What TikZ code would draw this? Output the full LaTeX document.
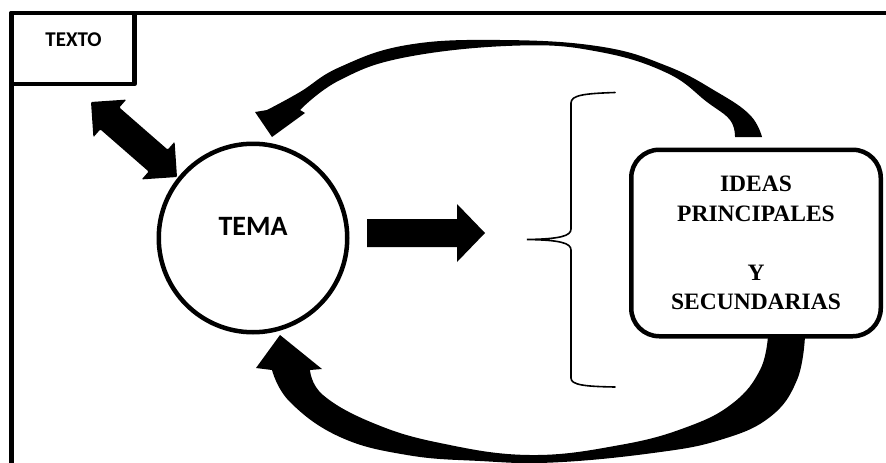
\documentclass[tikz,border=0pt]{standalone}
\usepackage{fontspec}
\setmainfont{Liberation Serif}
\newfontfamily\calfont{Carlito}
\begin{document}
\begin{tikzpicture}[x=1pt,y=-1pt,
  frameline/.style={line width=4.5pt, line join=round},
  blockarrow/.style={fill=black, draw=none},
  sanslbl/.style={inner sep=0pt, font=\calfont\bfseries},
  bracestyle/.style={line width=1.6pt, line cap=round}]
\useasboundingbox (0,0) rectangle (886,463);
\clip (0,0) rectangle (886,463);
\fill[white] (0,0) rectangle (886,463);

% outer frame (only top and left visible)
\coordinate (fbl) at (11.7,480);
\coordinate (ftl) at (11.7,12.8);
\coordinate (ftr) at (900,12.8);
\draw[frameline] (fbl) -- (ftl) -- (ftr);

% TEXTO box
\node[draw, frameline, rectangle, inner sep=0pt, outer sep=0pt,
      minimum width=122.6pt, minimum height=71.4pt] (texto) at (73,48.5) {};
\node[sanslbl, font=\calfont\bfseries\fontsize{21}{25}\selectfont] (textolbl) at (73.5,39.5) {TEXTO};

% TEMA circle
\node[draw, circle, line width=4.5pt, inner sep=0pt, outer sep=0pt,
      minimum size=188.5pt] (tema) at (253,238) {};
\node[sanslbl, font=\calfont\bfseries\fontsize{28}{33}\selectfont] (temalbl) at (253,226.5) {TEMA};

% IDEAS box
\node[draw, line width=4.5pt, rounded corners=28pt, inner sep=0pt, outer sep=0pt,
      minimum width=249.5pt, minimum height=186.5pt, align=center,
      font=\bfseries\fontsize{23.5}{29.5}\selectfont] (ideas) at (756,243)
      {IDEAS\\PRINCIPALES\\[29.5pt]Y\\SECUNDARIAS};

% double arrow TEXTO <-> TEMA
\fill[blockarrow, rounded corners=1pt]
  (91,102) -- (126.27,99.59) -- (119.37,107.50) -- (167.69,149.64) -- (174.59,141.73)
  -- (177,177) -- (141.73,179.41) -- (148.63,171.50) -- (100.31,129.36) -- (93.41,137.27) -- cycle;

% right block arrow
\fill[blockarrow] (367,219) -- (457,219) -- (457,204) -- (485,233) -- (457,262) -- (457,247) -- (367,247) -- cycle;

% brace
\draw[bracestyle] (615,92.5) .. controls (585,93.5) and (571,95) .. (571,103) -- (571,229)
  .. controls (571,236) and (560,239) .. (527,239.5)
  .. controls (560,240) and (571,243) .. (571,250) -- (571,378)
  .. controls (571,385) and (585,386.5) .. (615,387);

% top curved arrow (from IDEAS box to TEMA)
\fill[blockarrow] (762,137) -- plot[smooth, tension=0.7] coordinates
  {(762,137) (750,115) (717,92) (667,66) (600,46.5) (500,40) (407,45) (340,67) (300,92) (267,110)}
  -- (255,112) -- (272,137) -- (305,113)
  -- plot[smooth, tension=0.7] coordinates
  {(300,110) (340,80) (407,57) (520,45.5) (600,52) (667,73) (707,102) (730,120) (735,137)}
  -- cycle;

% bottom curved arrow (from IDEAS box to TEMA)
\fill[blockarrow] (805,336) -- plot[smooth, tension=0.7] coordinates
  {(805,336) (797,380) (770,417) (720,440) (653,453) (553,462.5) (480,461) (407,455) (340,437) (290,402) (272,370)}
  -- (256,368) -- (280,335) -- (322,369)
  -- plot[smooth, tension=0.7] coordinates
  {(310,370) (323,395) (373,423) (440,443) (530,455) (620,445) (687,427) (733,403) (760,370) (768,336)}
  -- cycle;
\end{tikzpicture}
\end{document}
